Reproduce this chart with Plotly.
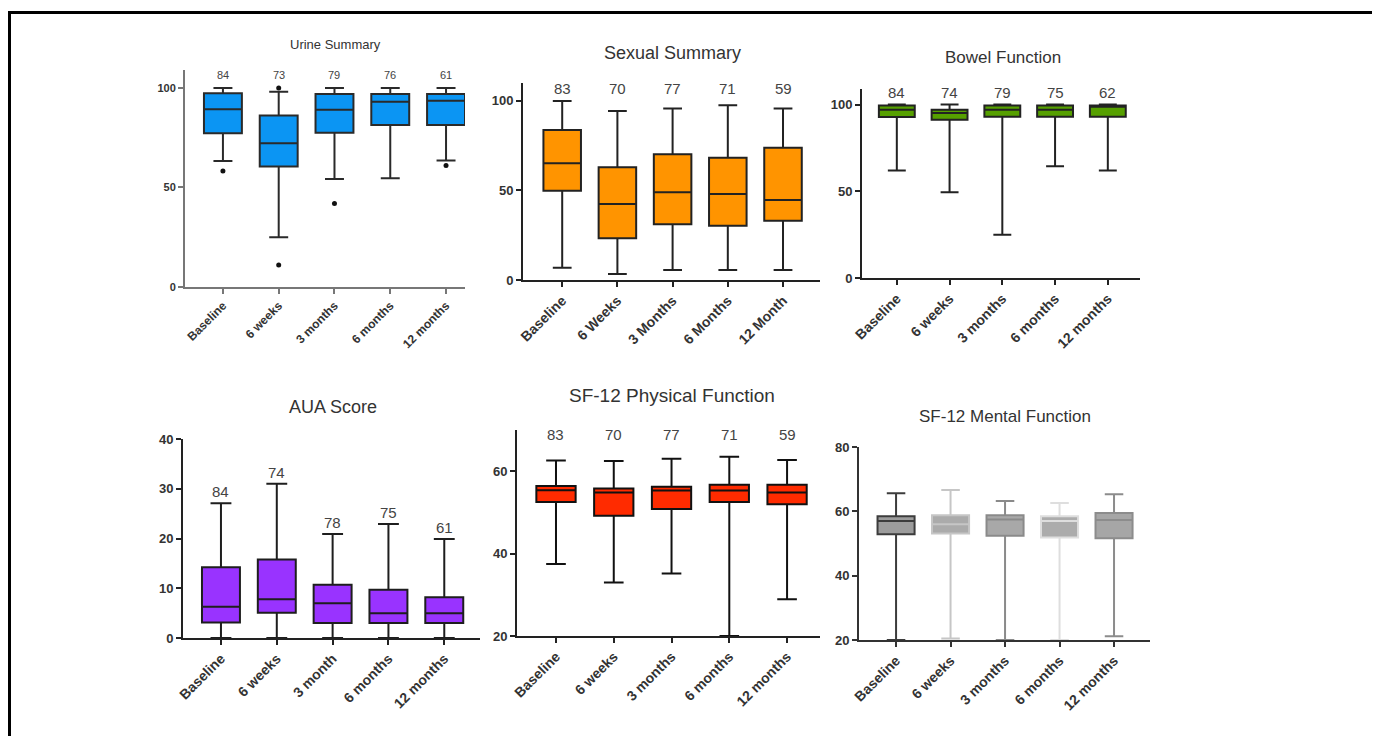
import plotly.graph_objects as go

# page offset (browser body margin) and figure size
OFF = 8
W, H = 1372, 728

# ---------------- data ----------------
urine_cats = ["Baseline", "6 weeks", "3 months", "6 months", "12 months"]
urine_n = [84, 73, 79, 76, 61]
urine_q1 = [77.2, 60.5, 77.5, 81.4, 81.4]
urine_med = [89.3, 72.2, 89.0, 93.1, 93.5]
urine_q3 = [97.3, 86.1, 97.0, 97.0, 97.0]
urine_lo = [63.3, 25.0, 54.3, 54.6, 63.5]
urine_hi = [100, 98.1, 100, 100, 100]
urine_out_x = ["Baseline", "6 weeks", "6 weeks", "3 months", "12 months"]
urine_out_y = [58.3, 100, 11, 42, 61]

sex_cats = ["Baseline", "6 Weeks", "3 Months", "6 Months", "12 Month"]
sex_n = [83, 70, 77, 71, 59]
sex_q1 = [49.9, 23.3, 31.1, 30.3, 33.1]
sex_med = [65.2, 42.5, 49.0, 48.0, 44.7]
sex_q3 = [83.8, 63.0, 70.2, 68.3, 73.9]
sex_lo = [6.9, 3.4, 5.6, 5.6, 5.6]
sex_hi = [100, 94.4, 95.7, 97.6, 95.7]

bow_cats = ["Baseline", "6 weeks", "3 months", "6 months", "12 months"]
bow_n = [84, 74, 79, 75, 62]
bow_q1 = [92.9, 91.3, 93.0, 93.0, 93.0]
bow_med = [97.1, 95.2, 97.0, 97.0, 98.8]
bow_q3 = [99.5, 97.1, 99.5, 99.5, 99.5]
bow_lo = [62.0, 49.5, 24.9, 64.5, 62.0]
bow_hi = [100, 100, 100, 100, 100]

aua_cats = ["Baseline", "6 weeks", "3 month", "6 months", "12 months"]
aua_n = [84, 74, 78, 75, 61]
aua_q1 = [3.1, 5.1, 3.0, 3.0, 3.0]
aua_med = [6.3, 7.8, 7.0, 5.0, 5.0]
aua_q3 = [14.2, 15.8, 10.7, 9.7, 8.2]
aua_lo = [0, 0, 0, 0, 0]
aua_hi = [27.1, 31.0, 20.9, 22.9, 19.9]

phy_cats = ["Baseline", "6 weeks", "3 months", "6 months", "12 months"]
phy_n = [83, 70, 77, 71, 59]
phy_q1 = [52.5, 49.2, 50.8, 52.5, 52.0]
phy_med = [55.4, 54.8, 55.3, 55.3, 54.8]
phy_q3 = [56.4, 55.8, 56.2, 56.7, 56.7]
phy_lo = [37.5, 33.0, 35.2, 20.0, 28.9]
phy_hi = [62.6, 62.5, 63.0, 63.5, 62.7]

men_cats = ["Baseline", "6 weeks", "3 months", "6 months", "12 months"]
men_q1 = [52.9, 53.1, 52.4, 51.9, 51.6]
men_med = [57.0, 56.0, 57.5, 57.0, 57.3]
men_q3 = [58.5, 58.8, 58.8, 58.5, 59.5]
men_lo = [20.0, 20.5, 20.0, 20.0, 21.2]
men_hi = [65.6, 66.6, 63.2, 62.6, 65.3]
men_fill = ["#9c9c9c", "#ababab", "#a8a8a8", "#acacac", "#a6a6a6"]
men_line = ["#3c3c3c", "#c6c6c6", "#8a8a8a", "#dedede", "#8c8c8c"]

# ---------------- layout helpers (screen px -> paper) ----------------
def px(sx):
    return (sx - OFF) / W

def py(sy):
    return 1 - (sy - OFF) / H

def xd(a, b):
    return [px(a), px(b)]

def yd(top, bottom):
    return [py(bottom), py(top)]

panels = [
    dict(x=(185, 465), y=(70, 287), xr=[-0.68, 4.34], yr=[0, 109], tv=[0, 50, 100],
         tfs=11, xfs=12, axc="#777777"),
    dict(x=(523, 820), y=(83, 280), xr=[-0.71, 4.67], yr=[0, 110], tv=[0, 50, 100],
         tfs=13, xfs=14, axc="#222222"),
    dict(x=(862, 1140), y=(89, 278), xr=[-0.66, 4.61], yr=[0, 109], tv=[0, 50, 100],
         tfs=13, xfs=14, axc="#222222"),
    dict(x=(183, 480), y=(439, 638), xr=[-0.68, 4.64], yr=[0, 40], tv=[0, 10, 20, 30, 40],
         tfs=13, xfs=14, axc="#222222"),
    dict(x=(517, 820), y=(430, 636), xr=[-0.675, 4.57], yr=[20, 70], tv=[20, 40, 60],
         tfs=13, xfs=14, axc="#222222"),
    dict(x=(859, 1150), y=(447, 640), xr=[-0.68, 4.66], yr=[20, 80], tv=[20, 40, 60, 80],
         tfs=13, xfs=14, axc="#333333"),
]

fig = go.Figure()

def add_box(i, cats, q1, med, q3, lo, hi, fill, line, lw=2, ww=0.5):
    s = "" if i == 1 else str(i)
    fig.add_trace(go.Box(
        x=cats, q1=q1, median=med, q3=q3, lowerfence=lo, upperfence=hi,
        fillcolor=fill, line=dict(color=line, width=lw), width=0.68,
        whiskerwidth=ww, boxpoints=False, showlegend=False,
        xaxis="x" + s, yaxis="y" + s))

add_box(1, urine_cats, urine_q1, urine_med, urine_q3, urine_lo, urine_hi, "#0b95f3", "#2a2a2a")
fig.add_trace(go.Scatter(x=urine_out_x, y=urine_out_y, mode="markers",
                         marker=dict(color="#111111", size=5), showlegend=False,
                         xaxis="x", yaxis="y"))
add_box(2, sex_cats, sex_q1, sex_med, sex_q3, sex_lo, sex_hi, "#ff9400", "#222222")
add_box(3, bow_cats, bow_q1, bow_med, bow_q3, bow_lo, bow_hi, "#56a000", "#222222")
add_box(4, aua_cats, aua_q1, aua_med, aua_q3, aua_lo, aua_hi, "#9933ff", "#1e1e1e", ww=0.55)
add_box(5, phy_cats, phy_q1, phy_med, phy_q3, phy_lo, phy_hi, "#ff2b00", "#111111")
for k in range(5):
    add_box(6, [men_cats[k]], [men_q1[k]], [men_med[k]], [men_q3[k]], [men_lo[k]],
            [men_hi[k]], men_fill[k], men_line[k])

layout = dict(width=W, height=H, autosize=False, margin=dict(l=0, r=0, t=0, b=0, pad=0),
              template="none",
              paper_bgcolor="white", plot_bgcolor="rgba(0,0,0,0)", boxmode="overlay",
              font=dict(family="Liberation Sans, Arial, sans-serif", color="#333333"))

for i, p in enumerate(panels, start=1):
    s = "" if i == 1 else str(i)
    layout["xaxis" + s] = dict(
        domain=xd(*p["x"]), anchor="y" + s, type="category", range=p["xr"],
        automargin=False,
        showgrid=False, zeroline=False, showline=True, linewidth=2, linecolor=p["axc"],
        ticks="outside", ticklen=5, tickwidth=2, tickcolor=p["axc"], tickangle=-45,
        tickfont=dict(size=p["xfs"], color="#333333", weight="bold"), fixedrange=True)
    layout["yaxis" + s] = dict(
        domain=yd(*p["y"]), anchor="x" + s, range=p["yr"], tickvals=p["tv"],
        automargin=False,
        showgrid=False, zeroline=False, showline=True, linewidth=2, linecolor=p["axc"],
        ticks="outside", ticklen=5, tickwidth=2, tickcolor=p["axc"],
        tickfont=dict(size=p["tfs"], color="#333333", weight="bold"), fixedrange=True)

annotations = []
titles = [("Urine Summary", 335, 44, 13), ("Sexual Summary", 672, 53, 18),
          ("Bowel Function", 1003, 58, 17), ("AUA Score", 333, 407, 18),
          ("SF-12 Physical Function", 672, 395, 19), ("SF-12 Mental Function", 1005, 416, 17)]
for t, x, y, fs in titles:
    annotations.append(dict(text=t, x=px(x), y=py(y), xref="paper", yref="paper",
                            showarrow=False, xanchor="center", yanchor="middle",
                            font=dict(size=fs, color="#333333")))

def n_labels(i, cats, ns, yval, fs):
    s = "" if i == 1 else str(i)
    for c, n in zip(cats, ns):
        annotations.append(dict(text=str(n), x=c, y=yval, xref="x" + s, yref="y" + s,
                                showarrow=False, yanchor="middle",
                                font=dict(size=fs, color="#444444")))

n_labels(1, urine_cats, urine_n, 106.5, 11)
n_labels(2, sex_cats, sex_n, 106.7, 15)
n_labels(3, bow_cats, bow_n, 107.0, 15)
n_labels(5, phy_cats, phy_n, 68.8, 15)
for c, n, h in zip(aua_cats, aua_n, aua_hi):
    annotations.append(dict(text=str(n), x=c, y=h, xref="x4", yref="y4", showarrow=False,
                            yanchor="bottom", yshift=1,
                            font=dict(size=15, color="#444444")))

layout["annotations"] = annotations
layout["shapes"] = [
    dict(type="line", xref="paper", yref="paper", x0=px(9.5), x1=px(9.5),
         y0=py(11), y1=-0.02, line=dict(color="black", width=3)),
    dict(type="line", xref="paper", yref="paper", x0=px(8), x1=1.02,
         y0=py(12.5), y1=py(12.5), line=dict(color="black", width=3)),
]
fig.update_layout(**layout)
fig.write_html("out.html")
